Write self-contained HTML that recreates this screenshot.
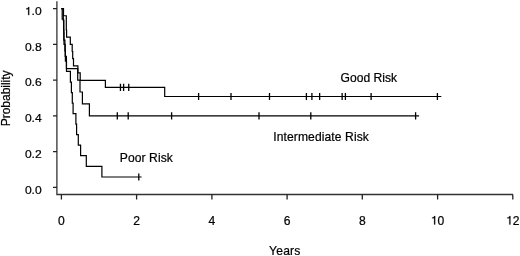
<!DOCTYPE html>
<html><head><meta charset="utf-8"><style>
html,body{margin:0;padding:0;background:#fff;width:520px;height:256px;overflow:hidden}
svg{display:block;will-change:transform}
text{font-family:"Liberation Sans",sans-serif;font-size:12.1px;fill:#000;stroke:#000;stroke-width:0.22px}
</style></head><body>
<svg width="520" height="256" viewBox="0 0 520 256">
<path d="M56.9 1.2 V194.5 H513" stroke="#333" stroke-width="1.3" fill="none"/>
<path d="M53 8.6 H57 M53 44.4 H57 M53 80.1 H57 M53 115.8 H57 M53 151.6 H57 M53 187.3 H57" stroke="#222" stroke-width="1.3" fill="none"/>
<path d="M61.4 194.5 V199.5 M136.6 194.5 V199.5 M211.9 194.5 V199.5 M287.1 194.5 V199.5 M362.3 194.5 V199.5 M437.6 194.5 V199.5 M512.8 194.5 V199.5" stroke="#222" stroke-width="1.3" fill="none"/>
<path d="M61.4 8.7 H63.5 V15.75 H66.3 V22.9 H66.3 V30.0 H66.6 V37.2 H70.3 V44.3 H72.2 V51.5 H72.7 V58.6 H73.5 V65.8 H77.9 V72.9 H80.2 V80.35 H105.4 V87.35 H164.7 V96.5 H441.3" stroke="#000" stroke-width="1.2" fill="none"/>
<path d="M61.4 8.7 H63.3 V20.6 H63.8 V32.4 H64.0 V44.3 H65.2 V56.3 H66.4 V68.7 H77.7 V80.1 H80.0 V92.0 H82.4 V103.9 H89.4 V115.8 H419.1" stroke="#000" stroke-width="1.2" fill="none"/>
<path d="M61.4 8.7 H62.2 V19.2 H63.6 V29.7 H63.8 V40.2 H64.9 V50.8 H65.4 V61.2 H66.5 V71.4 H70.4 V82.2 H71.4 V92.7 H72.3 V103.2 H73.1 V113.7 H75.9 V124.2 H76.6 V134.7 H78.3 V145.2 H80.6 V155.7 H86.3 V166.3 H101.9 V177.0 H141.6" stroke="#000" stroke-width="1.2" fill="none"/>
<path d="M120.45 83.75 V90.95 M123.6 83.75 V90.95 M128.75 83.75 V90.95 M198.6 92.90 V100.10 M231 92.90 V100.10 M269.5 92.90 V100.10 M306.4 92.90 V100.10 M311.9 92.90 V100.10 M319.65 92.90 V100.10 M342.15 92.90 V100.10 M345.4 92.90 V100.10 M371.1 92.90 V100.10 M437.4 92.90 V100.10 M117.3 112.20 V119.40 M128.2 112.20 V119.40 M171.6 112.20 V119.40 M259 112.20 V119.40 M310.8 112.20 V119.40 M415.6 112.20 V119.40 M138.8 173.40 V180.60" stroke="#000" stroke-width="1.3" fill="none"/>
<g fill="#000" stroke="#000" stroke-width="18.2">
<path d="M271 0 L359 0 L359 -703 L288 -703 C277 -660 250 -625 215 -605 C185 -588 140 -580 101 -578 L101 -510 L271 -510 Z" transform="translate(24.88,15.1) scale(0.01210,0.01137)"/>
<path d="M271 0 L359 0 L359 -703 L288 -703 C277 -660 250 -625 215 -605 C185 -588 140 -580 101 -578 L101 -510 L271 -510 Z" transform="translate(430.84,224.5) scale(0.01210,0.01210)"/>
<path d="M271 0 L359 0 L359 -703 L288 -703 C277 -660 250 -625 215 -605 C185 -588 140 -580 101 -578 L101 -510 L271 -510 Z" transform="translate(506.07,224.5) scale(0.01210,0.01210)"/>
</g>
<text transform="translate(41.7,15.1) scale(1,0.94)" text-anchor="end">.0</text>
<text transform="translate(41.7,50.6) scale(1,0.94)" text-anchor="end">0.8</text>
<text transform="translate(41.7,86.0) scale(1,0.94)" text-anchor="end">0.6</text>
<text transform="translate(41.7,122.15) scale(1,0.94)" text-anchor="end">0.4</text>
<text transform="translate(41.7,157.95) scale(1,0.94)" text-anchor="end">0.2</text>
<text transform="translate(41.7,193.6) scale(1,0.94)" text-anchor="end">0.0</text>
<text transform="translate(61.4,224.5) scale(1,1.0)" text-anchor="middle">0</text>
<text transform="translate(136.63,224.5) scale(1,1.0)" text-anchor="middle">2</text>
<text transform="translate(211.87,224.5) scale(1,1.0)" text-anchor="middle">4</text>
<text transform="translate(287.1,224.5) scale(1,1.0)" text-anchor="middle">6</text>
<text transform="translate(362.33,224.5) scale(1,1.0)" text-anchor="middle">8</text>
<text transform="translate(437.56,224.5) scale(1,1.0)" text-anchor="start">0</text>
<text transform="translate(512.8,224.5) scale(1,1.0)" text-anchor="start">2</text>
<text transform="translate(269.1,254.6) scale(1,1.0)" text-anchor="start" letter-spacing="0.2">Years</text>
<text transform="translate(340.6,82) scale(1,0.98)" text-anchor="start">Good Risk</text>
<text transform="translate(273.2,140.5) scale(1,0.98)" text-anchor="start" letter-spacing="0.1">Intermediate Risk</text>
<text transform="translate(119.8,162.3) scale(1,0.98)" text-anchor="start" letter-spacing="0.08">Poor Risk</text>
<text transform="translate(9.5,126.3) rotate(-90) scale(1,0.98)" letter-spacing="-0.06">Probability</text>
</svg>
</body></html>
